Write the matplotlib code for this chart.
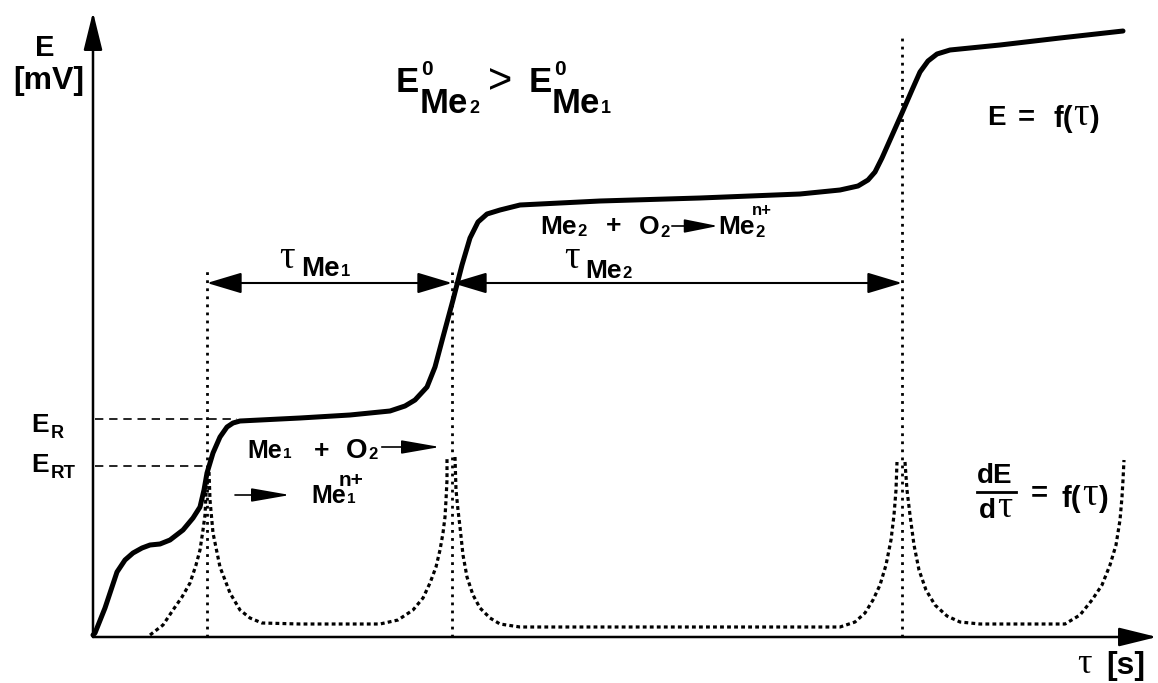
import matplotlib
matplotlib.use("Agg")
import matplotlib.pyplot as plt

# E = f(tau) potential curve (arbitrary units)
tau_E = [0, 2, 12, 24, 32, 40, 49, 57, 67, 77, 90, 100, 107, 111, 114, 120, 127, 134, 140, 147,
         207, 257, 297, 312, 322, 334, 342, 350, 360, 369, 377, 385, 394, 407, 427, 507, 607,
         707, 747, 765, 775, 782, 789, 797, 809, 819, 827, 835, 844, 857, 907, 967, 1030]
E_vals = [0, 2, 27, 63, 75, 82, 87, 90, 91, 95, 105, 117, 128, 145, 162, 182, 198, 208, 212, 214,
          217, 220, 224, 229, 235, 248, 268, 298, 335, 370, 397, 413, 421, 425, 430, 434, 437,
          441, 445, 449, 455, 463, 477, 495, 522, 545, 563, 574, 581, 585, 590, 597, 604]

# dE/dtau curve, drawn as four branches
dE_tau = [
    [57, 70, 80, 89, 97, 103, 107, 110, 112, 113, 114],
    [116, 117, 120, 127, 137, 147, 157, 169, 207, 287, 305, 320, 330, 337, 343, 347, 350, 352, 353, 354, 354],
    [362, 363, 365, 367, 370, 374, 380, 387, 397, 407, 427, 747, 762, 772, 780, 787, 793, 798, 801, 803, 804],
    [812, 814, 817, 821, 826, 833, 842, 854, 867, 887, 972, 987, 999, 1009, 1017, 1023, 1027, 1029, 1030, 1031],
]
dE_vals = [
    [0, 10, 25, 38, 52, 70, 85, 105, 120, 140, 163],
    [163, 135, 102, 68, 42, 25, 17, 12, 11, 11, 15, 25, 37, 52, 68, 85, 102, 118, 135, 155, 178],
    [178, 145, 125, 108, 80, 58, 40, 27, 17, 11, 8, 8, 13, 22, 35, 50, 70, 95, 120, 145, 173],
    [173, 145, 120, 90, 65, 45, 30, 19, 13, 11, 11, 20, 35, 50, 70, 90, 115, 138, 155, 175],
]

tau_marks = [114, 359, 809]      # end of each step (vertical dotted lines)
mark_tops = [365, 363, 598]
E_R = 216
E_RT = 169
dim_level = 352

X0, Y0 = 93, 635  # axis corner in the picture


def P(x, y):
    return x - X0, Y0 - y


plt.rcParams["font.family"] = ["Liberation Sans", "DejaVu Sans"]

fig = plt.figure(figsize=(11.58, 6.83), dpi=100)
ax = fig.add_axes([0, 0, 1, 1])
ax.set_xlim(-93, 1065)
ax.set_ylim(-48, 635)
ax.axis("off")
renderer = fig.canvas.get_renderer()

SANS = ["Liberation Sans", "DejaVu Sans"]
SERIF = ["Liberation Serif", "DejaVu Serif"]


def txt(x, y, s, size, serif=False, weight="bold"):
    t = ax.text(*P(x, y), s, fontsize=size, family=SERIF if serif else SANS,
                fontweight="normal" if serif else weight,
                ha="left", va="baseline", color="black")
    return t


def chain(x, y, parts):
    # parts: (text, size, dy, serif, gap)
    cx = x
    for s, size, dy, serif, gap in parts:
        t = txt(cx + gap, y + dy, s, size, serif)
        cx = t.get_window_extent(renderer).x1
    return cx


def arrow(x1, y1, x2, y2, style="-|>", hl=0.6, hw=0.15, ms=36, lw=1.5):
    ax.annotate("", xy=P(x2, y2), xytext=P(x1, y1),
                arrowprops=dict(arrowstyle=f"{style},head_length={hl},head_width={hw}",
                                mutation_scale=ms, lw=lw, color="black",
                                shrinkA=0, shrinkB=0))


# axes with arrows
arrow(93, 637, 93, 12, hl=0.65, hw=0.16, lw=1.8)
arrow(93, 637, 1157, 637, hl=0.65, hw=0.16, lw=1.8)

# main curve
ax.plot(tau_E, E_vals, color="black", lw=3.6, solid_joinstyle="round", solid_capstyle="round")

# derivative curve
for t, e in zip(dE_tau, dE_vals):
    ax.plot(t, e, color="black", lw=2.3, linestyle=(0, (1.2, 1.0)), dash_capstyle="butt")

# vertical dotted lines
for t, top in zip(tau_marks, mark_tops):
    ax.plot([t, t], [-2, top], color="black", lw=2.0, linestyle=(0, (1, 1.9)))

# E_R / E_RT dashed lines
ax.plot([2, 144], [E_R, E_R], color="black", lw=1.2, linestyle=(0, (5, 3.5)))
ax.plot([2, tau_marks[0]], [E_RT, E_RT], color="black", lw=1.2, linestyle=(0, (5, 3.5)))

# dimension arrows
for a, b in [(tau_marks[0], tau_marks[1]), (tau_marks[1], tau_marks[2])]:
    ax.annotate("", xy=(b, dim_level), xytext=(a, dim_level),
                arrowprops=dict(arrowstyle="<|-|>,head_length=0.6,head_width=0.18",
                                mutation_scale=36, lw=1.5, color="black", shrinkA=0, shrinkB=0))

# y label
txt(35, 56, "E", 21)
txt(13, 89, "[mV]", 23)

# top formula
txt(396, 92, "E", 25)
txt(421, 75, "0", 15)
chain(420, 113, [("Me", 25, 0, False, 0), ("2", 13, 0, False, 1)])
txt(488, 93, ">", 30, weight="normal")
txt(529, 92, "E", 25)
txt(554, 75, "0", 15)
chain(552, 113, [("Me", 25, 0, False, 0), ("1", 13, 0, False, 1)])

# E = f(tau)
txt(987, 125, "E", 20)
txt(1018, 125, "=", 21)
chain(1053, 127, [("f(", 21, 0, False, 0), ("\u03c4", 28, -2, True, 1), (")", 21, 0, False, 0)])

# tau Me1 / tau Me2
txt(279, 268, "\u03c4", 28, serif=True)
chain(301, 276, [("Me", 20, 0, False, 0), ("1", 12, 0, False, 1)])
txt(564, 268, "\u03c4", 28, serif=True)
chain(585, 278, [("Me", 19, 0, False, 0), ("2", 12, 0, False, 1)])

# reaction 2
chain(540, 234, [("Me", 19, 0, False, 0), ("2", 12, 2, False, 1)])
txt(606, 233, "+", 19)
end = chain(639, 234, [("O", 19, 0, False, 0), ("2", 12, 3, False, 1)])
arrow(end + 2, 226, 718, 226, hl=0.7, hw=0.14, ms=30, lw=1.2)
chain(718, 234, [("Me", 19, 0, False, 0), ("2", 12, 3, False, 1)])
txt(752, 215, "n+", 12)

# reaction 1
chain(247, 458, [("Me", 18, 0, False, 0), ("1", 11, 0, False, 1)])
txt(314, 458, "+", 19)
end = chain(346, 458, [("O", 20, 0, False, 0), ("2", 12, 1, False, 1)])
arrow(end + 4, 447, 440, 447, hl=0.8, hw=0.14, ms=30, lw=1.2)
arrow(235, 495, 290, 495, hl=0.8, hw=0.14, ms=30, lw=1.2)
chain(311, 503, [("Me", 18, 0, False, 0), ("1", 11, 0, False, 1)])
txt(339, 486, "n+", 15)

# E_R, E_RT
txt(31, 432, "E", 19)
txt(51, 438, "R", 13)
txt(31, 472, "E", 19)
txt(51, 478, "RT", 13.5)

# dE/dtau = f(tau)
txt(977, 483, "dE", 20)
ax.plot(*zip(P(977, 492), P(1016, 492)), color="black", lw=2)
chain(979, 518, [("d", 20, 0, False, 0), ("\u03c4", 27, -1, True, 1)])
txt(1031, 501, "=", 21)
chain(1062, 507, [("f(", 21, 0, False, 0), ("\u03c4", 28, -2, True, 1), (")", 21, 0, False, 0)])

# tau [s]
txt(1077, 673, "\u03c4", 26, serif=True)
txt(1106, 674, "[s]", 23)

fig.savefig("out.png", dpi=100)
